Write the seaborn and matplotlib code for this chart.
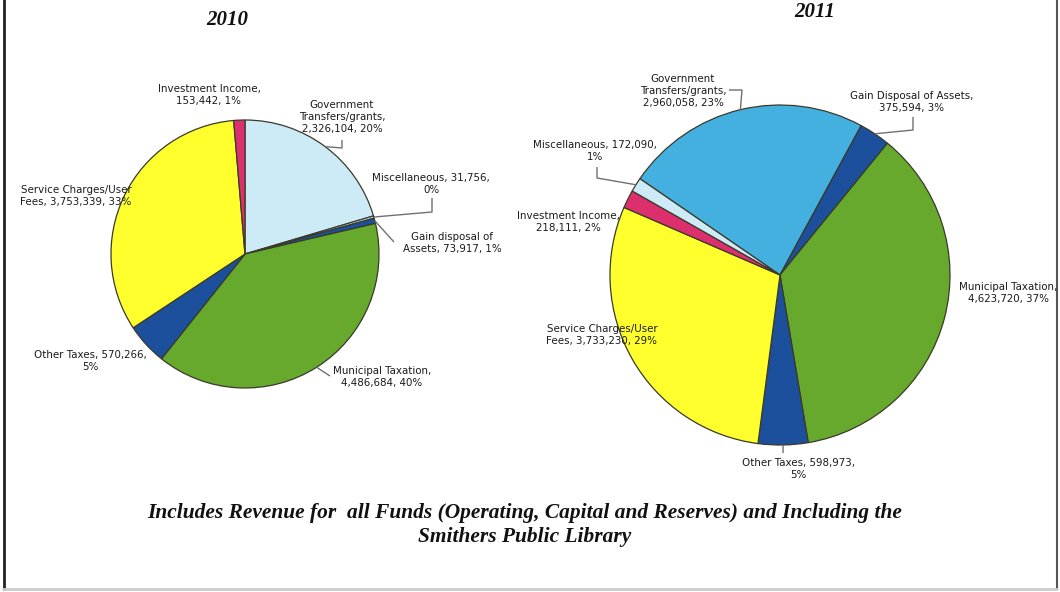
import numpy as np
import matplotlib
matplotlib.use("Agg")
import matplotlib.pyplot as plt
import seaborn as sns

# Revenue by source, 2010 (drawn clockwise from 12 o'clock)
cats_2010 = ["Government\nTransfers/grants", "Miscellaneous", "Gain disposal of\nAssets",
             "Municipal Taxation", "Other Taxes", "Service Charges/User\nFees",
             "Investment Income"]
vals_2010 = [2326104, 31756, 73917, 4486684, 570266, 3753339, 153442]
labels_2010 = ["Government\nTransfers/grants,\n2,326,104, 20%",
               "Miscellaneous, 31,756,\n0%",
               "Gain disposal of\nAssets, 73,917, 1%",
               "Municipal Taxation,\n4,486,684, 40%",
               "Other Taxes, 570,266,\n5%",
               "Service Charges/User\nFees, 3,753,339, 33%",
               "Investment Income,\n153,442, 1%"]

# Revenue by source, 2011
cats_2011 = ["Government\nTransfers/grants", "Gain Disposal of Assets", "Municipal Taxation",
             "Other Taxes", "Service Charges/User\nFees", "Investment Income",
             "Miscellaneous"]
vals_2011 = [2960058, 375594, 4623720, 598973, 3733230, 218111, 172090]
labels_2011 = ["Government\nTransfers/grants,\n2,960,058, 23%",
               "Gain Disposal of Assets,\n375,594, 3%",
               "Municipal Taxation,\n4,623,720, 37%",
               "Other Taxes, 598,973,\n5%",
               "Service Charges/User\nFees, 3,733,230, 29%",
               "Investment Income,\n218,111, 2%",
               "Miscellaneous, 172,090,\n1%"]

LIGHT = "#cdebf6"
SKY = "#44b0e0"
NAVY = "#1c4f9c"
GREEN = "#67a92c"
YELLOW = "#ffff2e"
PINK = "#dd2f6e"

colors_2010 = [LIGHT, LIGHT, NAVY, GREEN, NAVY, YELLOW, PINK]
colors_2011 = [SKY, NAVY, GREEN, NAVY, YELLOW, PINK, LIGHT]

sns.set_theme(style="white")
plt.rcParams["font.family"] = ["DejaVu Sans"]

W, H = 1060, 592
fig = plt.figure(figsize=(W / 100, H / 100), dpi=100)
ax = fig.add_axes([0, 0, 1, 1])


def Y(y):
    return H - y


def draw_pie(vals, colors, center, radius, start):
    wedges, _ = ax.pie(vals, colors=colors, center=(center[0], Y(center[1])),
                       radius=radius, startangle=start, counterclock=False,
                       wedgeprops=dict(edgecolor="#3a3a2a", linewidth=0.9))
    anchors = []
    for w in wedges:
        mid = np.deg2rad((w.theta1 + w.theta2) / 2)
        anchors.append((center[0] + radius * np.cos(mid),
                        center[1] - radius * np.sin(mid)))
    return anchors


c10, r10 = (245, 254), 134
c11, r11 = (780, 275), 170
a10 = draw_pie(vals_2010, colors_2010, c10, r10, 90)
a11 = draw_pie(vals_2011, colors_2011, c11, r11, 145.5)

# label text positions (pixel space) and leader routing after the wedge anchor
pos_2010 = [(342, 117), (431, 184), (452, 243), (382, 377), (90, 361), (76, 196), (209, 95)]
lead_2010 = [[(342, 148), (342, 140)], [(432, 212), (432, 198)], [(394, 242)],
             [(330, 376)], None, None, None]
pos_2011 = [(683, 91), (912, 102), (1008, 293), (798, 469), (602, 335), (568, 222), (595, 151)]
lead_2011 = [[(742, 90), (729, 90)], [(913, 130), (913, 117)], None,
             [(783, 453)], None, None, [(597, 178), (597, 167)]]

for labels, pos, leads, anchors in [(labels_2010, pos_2010, lead_2010, a10),
                                    (labels_2011, pos_2011, lead_2011, a11)]:
    for lab, p, ld, an in zip(labels, pos, leads, anchors):
        if ld:
            pts = [an] + ld
            ax.plot([q[0] for q in pts], [Y(q[1]) for q in pts], color="#707070",
                    lw=1.0, solid_capstyle="butt", zorder=3)
        ax.text(p[0], Y(p[1]), lab, ha="center", va="center", fontsize=7.4,
                color="#1a1a1a", linespacing=1.25, zorder=4)

serif = dict(family="Liberation Serif", weight="bold", style="italic", color="#111111")
ax.text(227, Y(20), "2010", ha="center", va="center", fontsize=15, **serif)
ax.text(815, Y(12), "2011", ha="center", va="center", fontsize=15, **serif)
ax.text(525, Y(513), "Includes Revenue for  all Funds (Operating, Capital and Reserves) and Including the",
        ha="center", va="center", fontsize=15.4, **serif)
ax.text(525, Y(537), "Smithers Public Library", ha="center", va="center", fontsize=15.4, **serif)

# page frame
ax.plot([3.5, 3.5], [Y(0), Y(589)], color="#222222", lw=2)
ax.plot([1056.5, 1056.5], [Y(0), Y(589)], color="#555555", lw=1.5)
ax.plot([3, 1057], [Y(588.5), Y(588.5)], color="#cccccc", lw=2)

ax.set_xlim(0, W)
ax.set_ylim(0, H)
ax.set_aspect("equal")
ax.axis("off")
fig.savefig("out.png", dpi=100, facecolor="white")
